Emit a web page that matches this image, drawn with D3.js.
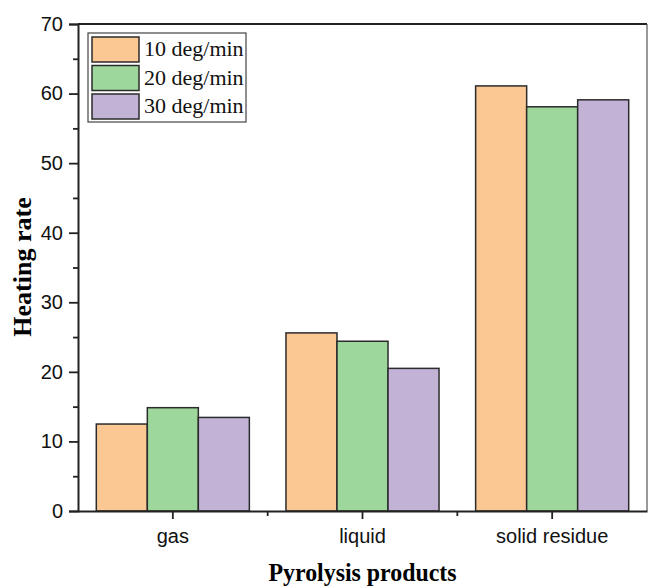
<!DOCTYPE html>
<html>
<head>
<meta charset="utf-8">
<script src="https://cdn.jsdelivr.net/npm/d3@7"></script>
<style>
  body { margin: 0; background: #fff; }
  svg { display: block; }
</style>
</head>
<body>
<div id="chart"></div>
<script>
// data
const categories = ['gas', 'liquid', 'solid residue'];
const seriesNames = ['10 deg/min', '20 deg/min', '30 deg/min'];
const rate10 = [12.5, 25.6, 61.1];
const rate20 = [14.85, 24.4, 58.1];
const rate30 = [13.45, 20.5, 59.1];
const yTicks = [0, 10, 20, 30, 40, 50, 60, 70];
const colors = ['#fbc893', '#9dd79c', '#c1b2d6'];

const width = 648, height = 587;
const margin = {top: 24, right: 1, bottom: 76, left: 78};
const series = [rate10, rate20, rate30];

const svg = d3.select('#chart')
    .append('svg')
    .attr('width', width)
    .attr('height', height);

const x0 = d3.scaleBand()
    .domain(categories)
    .range([margin.left, width - margin.right])
    .paddingInner(0.193)
    .paddingOuter(0.0965);

const x1 = d3.scaleBand()
    .domain(d3.range(seriesNames.length))
    .range([0, x0.bandwidth()]);

const y = d3.scaleLinear()
    .domain([0, 70])
    .range([height - margin.bottom, margin.top]);

// bars
categories.forEach((cat, i) => {
    const g = svg.append('g').attr('transform', `translate(${x0(cat)},0)`);
    series.forEach((vals, s) => {
        g.append('rect')
            .attr('x', x1(s))
            .attr('y', y(vals[i]))
            .attr('width', x1.bandwidth())
            .attr('height', y(0) - y(vals[i]))
            .attr('fill', colors[s])
            .attr('stroke', '#2b2b2b')
            .attr('stroke-width', 1.5);
    });
});

// frame (top and right)
svg.append('line')
    .attr('x1', margin.left).attr('x2', width - margin.right)
    .attr('y1', margin.top).attr('y2', margin.top)
    .attr('stroke', '#222').attr('stroke-width', 1.8);
svg.append('line')
    .attr('x1', width - margin.right).attr('x2', width - margin.right)
    .attr('y1', margin.top).attr('y2', height - margin.bottom)
    .attr('stroke', '#555').attr('stroke-width', 1.2);

// y axis
const yAxis = svg.append('g')
    .attr('transform', `translate(${margin.left},0)`)
    .call(d3.axisLeft(y).tickValues(yTicks).tickSize(9).tickPadding(6).tickFormat(d3.format('d')));
const yMinor = svg.append('g')
    .attr('transform', `translate(${margin.left},0)`)
    .call(d3.axisLeft(y).tickValues(d3.range(5, 70, 10)).tickSize(5).tickFormat(''));
yMinor.select('.domain').remove();

// x axis
const xAxis = svg.append('g')
    .attr('transform', `translate(0,${height - margin.bottom})`)
    .call(d3.axisBottom(x0).tickSize(8).tickPadding(10).tickSizeOuter(0));
const boundaries = [1, 2].map(k => margin.left + k * x0.step());
const xMinor = svg.append('g')
    .attr('transform', `translate(0,${height - margin.bottom})`);
xMinor.selectAll('line.minor')
    .data(boundaries)
    .join('line')
    .attr('class', 'minor')
    .attr('x1', d => d).attr('x2', d => d)
    .attr('y1', 0).attr('y2', 5)
    .attr('stroke', '#222').attr('stroke-width', 1.8);

[yAxis, yMinor, xAxis].forEach(ax => {
    ax.selectAll('.domain').attr('stroke', '#222').attr('stroke-width', 2);
    ax.selectAll('.tick line').attr('stroke', '#222').attr('stroke-width', 1.8);
    ax.selectAll('.tick text')
        .attr('fill', '#111')
        .style('font-family', '"Liberation Sans", Arial, sans-serif')
        .style('font-size', '20px');
});

// axis titles
svg.append('text')
    .attr('x', (margin.left + width - margin.right) / 2)
    .attr('y', 581)
    .attr('text-anchor', 'middle')
    .style('font-family', '"Liberation Serif", "Times New Roman", serif')
    .style('font-weight', 'bold')
    .style('font-size', '25px')
    .attr('textLength', 188)
    .attr('lengthAdjust', 'spacingAndGlyphs')
    .text('Pyrolysis products');

svg.append('text')
    .attr('transform', 'translate(31,267) rotate(-90)')
    .attr('text-anchor', 'middle')
    .style('font-family', '"Liberation Serif", "Times New Roman", serif')
    .style('font-weight', 'bold')
    .style('font-size', '26px')
    .text('Heating rate');

// legend
const legend = svg.append('g');
legend.append('rect')
    .attr('x', 88).attr('y', 33)
    .attr('width', 158).attr('height', 89)
    .attr('fill', '#fff')
    .attr('stroke', '#444').attr('stroke-width', 1.2);
seriesNames.forEach((name, s) => {
    const row = legend.append('g').attr('transform', `translate(92,${37 + s * 28.5})`);
    row.append('rect')
        .attr('width', 47).attr('height', 25)
        .attr('fill', colors[s])
        .attr('stroke', '#2b2b2b').attr('stroke-width', 1.5);
    row.append('text')
        .attr('x', 52).attr('y', 19)
        .style('font-family', '"Liberation Serif", "Times New Roman", serif')
        .style('font-size', '22px')
        .attr('fill', '#111')
        .text(name);
});
</script>
</body>
</html>
